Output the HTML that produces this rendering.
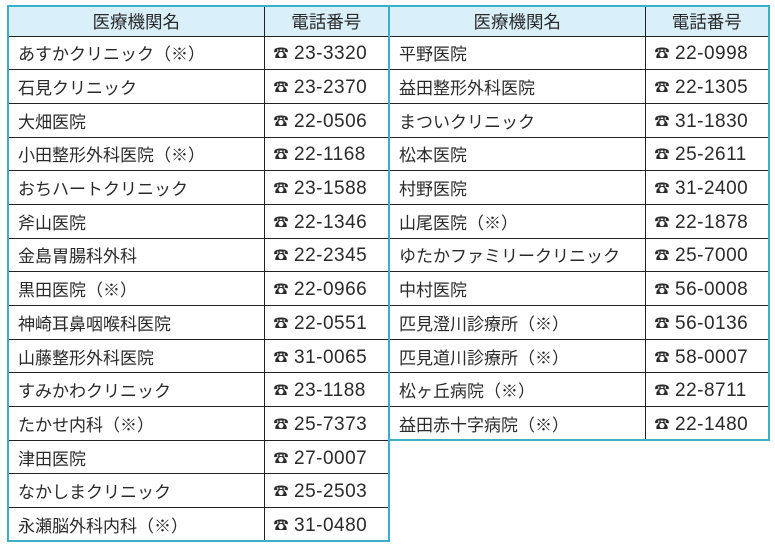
<!DOCTYPE html>
<html><head><meta charset="utf-8"><style>
html,body{margin:0;padding:0;background:#fff;width:775px;height:546px;overflow:hidden}
body{font-family:"Liberation Sans","Noto Sans CJK JP",sans-serif;color:#2a2a2a;font-size:17px}
table{position:absolute;top:5px;border-collapse:collapse;table-layout:fixed;border:2.5px solid #3aafc8}
td,th{border:1px solid #222;padding:0 0 0 9px;white-space:nowrap;height:33.7px;box-sizing:border-box}
th{font-weight:normal;background:#d9eff9;text-align:center;padding:0;height:30px;border-bottom:1px solid #222;font-size:17.5px}
.p{font-size:19px;letter-spacing:0.5px;padding-top:2px}
.p b{font-size:15px;margin-right:5px;vertical-align:1px}
#a{left:7px;width:383px}
#b{left:388px;width:382px}
</style></head><body>
<table id="a"><colgroup><col style="width:256px"><col></colgroup>
<tr><th>医療機関名</th><th>電話番号</th></tr>
<tr><td>あすかクリニック（※）</td><td class="p"><b>☎</b>23-3320</td></tr>
<tr><td>石見クリニック</td><td class="p"><b>☎</b>23-2370</td></tr>
<tr><td>大畑医院</td><td class="p"><b>☎</b>22-0506</td></tr>
<tr><td>小田整形外科医院（※）</td><td class="p"><b>☎</b>22-1168</td></tr>
<tr><td>おちハートクリニック</td><td class="p"><b>☎</b>23-1588</td></tr>
<tr><td>斧山医院</td><td class="p"><b>☎</b>22-1346</td></tr>
<tr><td>金島胃腸科外科</td><td class="p"><b>☎</b>22-2345</td></tr>
<tr><td>黒田医院（※）</td><td class="p"><b>☎</b>22-0966</td></tr>
<tr><td>神崎耳鼻咽喉科医院</td><td class="p"><b>☎</b>22-0551</td></tr>
<tr><td>山藤整形外科医院</td><td class="p"><b>☎</b>31-0065</td></tr>
<tr><td>すみかわクリニック</td><td class="p"><b>☎</b>23-1188</td></tr>
<tr><td>たかせ内科（※）</td><td class="p"><b>☎</b>25-7373</td></tr>
<tr><td>津田医院</td><td class="p"><b>☎</b>27-0007</td></tr>
<tr><td>なかしまクリニック</td><td class="p"><b>☎</b>25-2503</td></tr>
<tr><td>永瀬脳外科内科（※）</td><td class="p"><b>☎</b>31-0480</td></tr>
</table>
<table id="b"><colgroup><col style="width:256px"><col></colgroup>
<tr><th>医療機関名</th><th>電話番号</th></tr>
<tr><td>平野医院</td><td class="p"><b>☎</b>22-0998</td></tr>
<tr><td>益田整形外科医院</td><td class="p"><b>☎</b>22-1305</td></tr>
<tr><td>まついクリニック</td><td class="p"><b>☎</b>31-1830</td></tr>
<tr><td>松本医院</td><td class="p"><b>☎</b>25-2611</td></tr>
<tr><td>村野医院</td><td class="p"><b>☎</b>31-2400</td></tr>
<tr><td>山尾医院（※）</td><td class="p"><b>☎</b>22-1878</td></tr>
<tr><td>ゆたかファミリークリニック</td><td class="p"><b>☎</b>25-7000</td></tr>
<tr><td>中村医院</td><td class="p"><b>☎</b>56-0008</td></tr>
<tr><td>匹見澄川診療所（※）</td><td class="p"><b>☎</b>56-0136</td></tr>
<tr><td>匹見道川診療所（※）</td><td class="p"><b>☎</b>58-0007</td></tr>
<tr><td>松ヶ丘病院（※）</td><td class="p"><b>☎</b>22-8711</td></tr>
<tr><td>益田赤十字病院（※）</td><td class="p"><b>☎</b>22-1480</td></tr>
</table>
</body></html>
